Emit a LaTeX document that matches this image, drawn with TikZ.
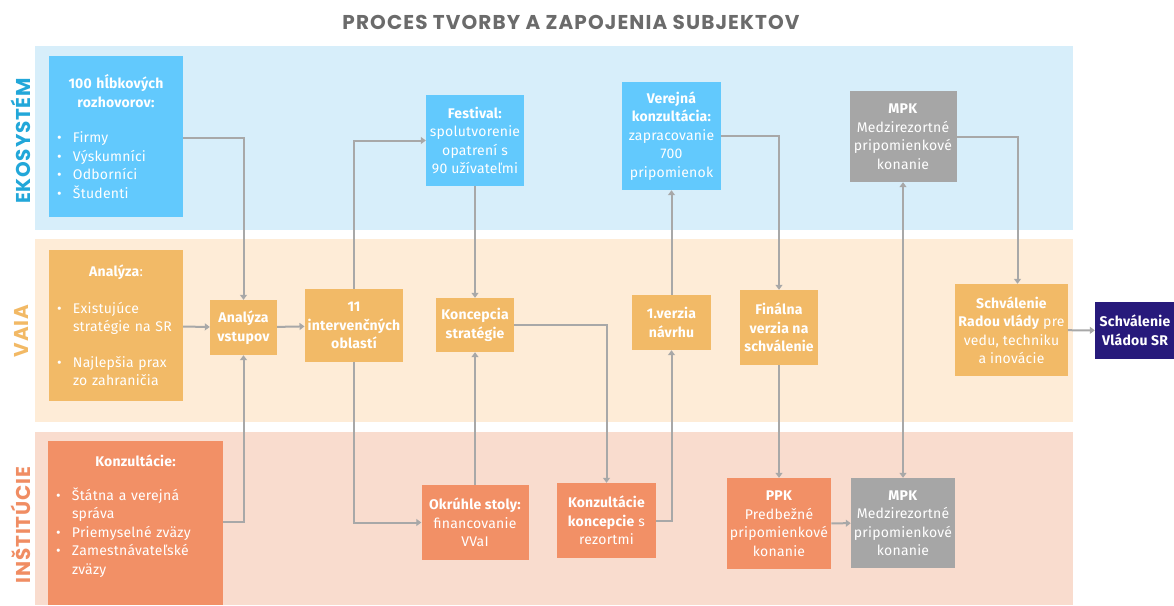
\documentclass[tikz,border=0pt]{standalone}
\usepackage{fontspec}
\setmainfont{Fira Sans}[LetterSpace=1.5]
\newfontfamily\titlefont[LetterSpace=5.5]{Poppins}
\newfontfamily\lanefont[LetterSpace=4]{Poppins}
\usetikzlibrary{arrows.meta}

\definecolor{bandeko}{HTML}{D7EEFA}
\definecolor{bandvaia}{HTML}{FEECD7}
\definecolor{bandinst}{HTML}{F9DCCE}
\definecolor{boxblue}{HTML}{62C9FD}
\definecolor{boxorange}{HTML}{F2BA67}
\definecolor{boxsalmon}{HTML}{F29066}
\definecolor{boxgray}{HTML}{A6A6A6}
\definecolor{boxnavy}{HTML}{271A7B}
\definecolor{linegray}{HTML}{A8A8A8}
\definecolor{labeko}{HTML}{22A7D9}
\definecolor{labvaia}{HTML}{F2B965}
\definecolor{labinst}{HTML}{F08D63}
\definecolor{titlegray}{HTML}{6B6B6B}

\newcommand{\bul}{\hspace*{5pt}\makebox[16pt][l]{\textbullet}}
\newcommand{\ind}{\hspace*{21pt}}

\begin{document}
\begin{tikzpicture}
  [x=1pt,y=-1pt,
   every node/.style={font=\fontsize{14}{18.5}\selectfont,text=white,inner sep=3pt},
   box/.style={rectangle,align=center},
   bluebox/.style={box,fill=boxblue},
   orangebox/.style={box,fill=boxorange},
   salmonbox/.style={box,fill=boxsalmon},
   graybox/.style={box,fill=boxgray},
   navybox/.style={box,fill=boxnavy},
   boldtext/.style={font=\bfseries\fontsize{14}{18.5}\selectfont},
   lane/.style={rotate=90,font=\lanefont\bfseries\fontsize{20}{22}\selectfont},
   link/.style={draw=linegray,line width=2pt,-{Triangle[length=5pt,width=7pt]}}]
  \useasboundingbox (0,0) rectangle (1174,605);

  % bands
  \fill[bandeko]  (35,46)  rectangle (1073,230);
  \fill[bandvaia] (35,239) rectangle (1073,422);
  \fill[bandinst] (35,432) rectangle (1073,605);

  \node[text=titlegray,font=\titlefont\bfseries\fontsize{20}{22}\selectfont] (title) at (571,22) {PROCES TVORBY A ZAPOJENIA SUBJEKTOV};

  \node[lane,text=labeko]  (lab-eko)  at (21,141) {EKOSYSTÉM};
  \node[lane,text=labvaia] (lab-vaia) at (21,331) {VAIA};
  \node[lane,text=labinst] (lab-inst) at (21,525) {INŠTITÚCIE};

  % ekosystem
  \node[bluebox,align=left,text width=128pt,minimum height=161] (rozhovory) at (116,136.5)
    {{\centering\bfseries 100 hĺbkových\\ rozhovorov:\par}\vspace{17pt}
     \bul Firmy\\ \bul Výskumníci\\ \bul Odborníci\\ \bul Študenti};
  \node[bluebox,minimum width=98,minimum height=91] (festival) at (475,140.5)
    {\textbf{Festival:}\\ spolutvorenie\\ opatrení s\\ 90 užívateľmi};
  \node[bluebox,minimum width=99,minimum height=108] (verejna) at (671.5,136)
    {\textbf{Verejná}\\ \textbf{konzultácia:}\\ zapracovanie\\ 700\\ pripomienok};
  \node[graybox,minimum width=107,minimum height=91] (mpk-top) at (903,136.5)
    {\textbf{MPK}\\ Medzirezortné\\ pripomienkové\\ konanie};

  % vaia
  \node[orangebox,align=left,text width=128pt,minimum height=151] (analyza) at (116,325.5)
    {{\centering\textbf{Analýza}:\par}\vspace{18pt}
     \bul Existujúce\\ \ind stratégie na SR\par\vspace{17pt}
     \bul Najlepšia prax\\ \ind zo zahraničia};
  \node[orangebox,boldtext,minimum width=67,minimum height=55] (vstupy) at (243.5,327.5)
    {Analýza\\ vstupov};
  \node[orangebox,boldtext,minimum width=98,minimum height=73] (oblasti) at (354,325.5)
    {11\\ intervenčných\\ oblastí};
  \node[orangebox,boldtext,minimum width=78,minimum height=54] (koncepcia) at (475,325)
    {Koncepcia\\ stratégie};
  \node[orangebox,boldtext,minimum width=79,minimum height=55] (verzia) at (671.5,322.5)
    {1.verzia\\ návrhu};
  \node[orangebox,boldtext,minimum width=78,minimum height=75] (finalna) at (779,327.5)
    {Finálna\\ verzia na\\ schválenie};
  \node[orangebox,minimum width=111,minimum height=92] (rada) at (1011.5,330)
    {\textbf{Schválenie}\\ \textbf{Radou vlády} pre\\ vedu, techniku\\ a inovácie};
  \node[navybox,boldtext,minimum width=80,minimum height=57] (vlada) at (1135,330.5)
    {Schválenie\\ Vládou SR};

  % institucie
  \node[salmonbox,align=left,text width=169pt,minimum height=164] (konzultacie) at (135.5,523)
    {{\centering\bfseries Konzultácie:\par}\vspace{15pt}
     \bul Štátna a verejná\\ \ind správa\\ \bul Priemyselné zväzy\\
     \bul Zamestnávateľské\\ \ind zväzy\par\vspace{14pt}};
  \node[salmonbox,minimum width=107,minimum height=75] (stoly) at (475,522.5)
    {\textbf{Okrúhle stoly:}\\ financovanie\\ VVaI};
  \node[salmonbox,minimum width=99,minimum height=75] (rezorty) at (606.5,520.5)
    {\textbf{Konzultácie}\\ \textbf{koncepcie} s\\ rezortmi};
  \node[salmonbox,minimum width=98,minimum height=91] (ppk) at (779,523.5)
    {\textbf{PPK}\\ Predbežné\\ pripomienkové\\ konanie};
  \node[graybox,minimum width=98,minimum height=90] (mpk-bot) at (903,523)
    {\textbf{MPK}\\ Medzirezortné\\ pripomienkové\\ konanie};

  % straight links
  \foreach \from/\to in {analyza/vstupy,vstupy/oblasti,festival/koncepcia,stoly/koncepcia,
                         verzia/verejna,finalna/ppk,ppk/mpk-bot,rada/vlada}
    \draw[link] (\from) -- (\to);

  % elbow links
  \draw[link] (rozhovory.east |- 0,138) -| (vstupy.north);
  \draw[link] (konzultacie.east |- 0,522) -| (vstupy.south);
  \draw[link] (oblasti.north) |- (festival.west);
  \draw[link] (oblasti.south) |- (stoly.west);
  \draw[link] (koncepcia.east) -| (rezorty.north);
  \draw[link] (rezorty.east) -| (verzia.south);
  \draw[link] (verejna.east) -| (finalna.north);
  \draw[link] (mpk-top.east) -| ([xshift=6]rada.north);
  \draw[link,{Triangle[length=5pt,width=7pt]}-{Triangle[length=5pt,width=7pt]}] (mpk-top) -- (mpk-bot);

\end{tikzpicture}
\end{document}
